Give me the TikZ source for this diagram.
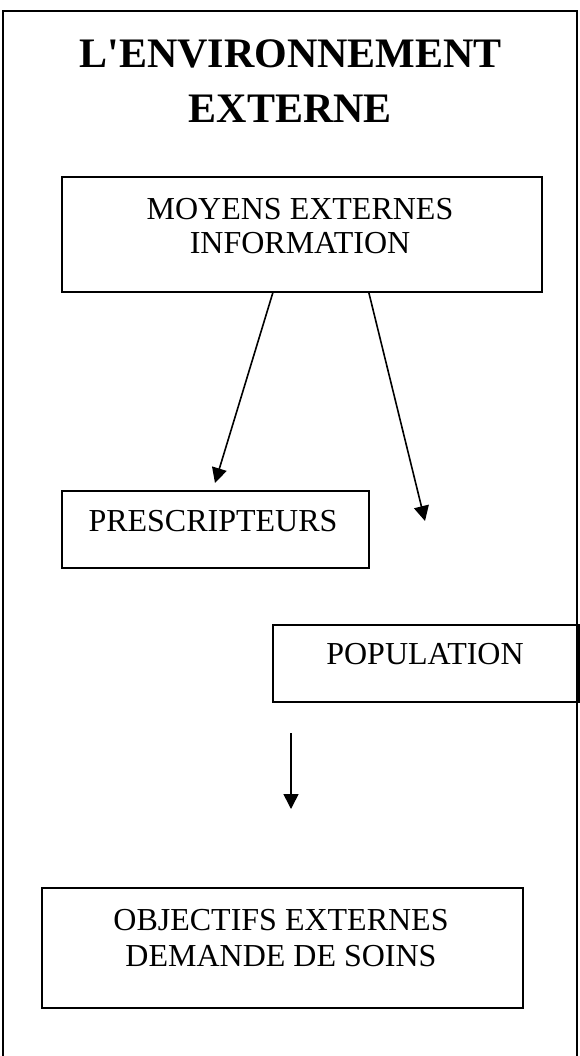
\documentclass[tikz,border=0pt]{standalone}
\usepackage{fontspec}
\setmainfont{Liberation Serif}
\usetikzlibrary{arrows.meta}
\begin{document}
\begin{tikzpicture}[x=1pt,y=-1pt,
  frameline/.style={line width=1.8pt},
  box/.style={draw, line width=1.7pt, inner sep=0pt, anchor=north west},
  boxtext/.style={inner sep=0pt, anchor=base, align=center,
    font=\fontsize{32}{35}\selectfont},
  titletext/.style={inner sep=0pt, anchor=base, align=center,
    font=\fontsize{42}{55}\selectfont\bfseries},
  arr/.style={line width=1.6pt, -{Triangle[length=15pt,width=15pt]}}]
\useasboundingbox (0,0) rectangle (580,1056);
\fill[white] (0,0) rectangle (580,1056);

% outer frame, open at the bottom
\draw[frameline] (3,1056) -- (3,11) -- (577,11) -- (577,1056);

% title
\node[titletext] (title1) at (290.5,68) {L\textquotesingle ENVIRONNEMENT};
\node[titletext] (title2) at (290.5,123) {EXTERNE};

% boxes
\node[box, minimum width=480pt, minimum height=115pt] (moyens) at (61,176) {};
\node[box, minimum width=307pt, minimum height=77pt] (prescr) at (61,490) {};
\node[box, minimum width=306pt, minimum height=77pt] (pop) at (272,624) {};
\node[box, minimum width=481pt, minimum height=120pt] (objectifs) at (41,887) {};

% box labels
\node[boxtext] (moyens1) at (300,220) {MOYENS EXTERNES};
\node[boxtext] (moyens2) at (300,254) {INFORMATION};
\node[boxtext] (prescrtxt) at (213,531) {PRESCRIPTEURS};
\node[boxtext] (poptxt) at (425,664) {POPULATION};
\node[boxtext] (obj1) at (281,930) {OBJECTIFS EXTERNES};
\node[boxtext] (obj2) at (281,966) {DEMANDE DE SOINS};

% arrow ends
\coordinate (s1) at ([xshift=-29pt]moyens.south);
\coordinate (s2) at ([xshift=67pt]moyens.south);
\coordinate (e1) at (215,483);
\coordinate (e2) at (425,521);
\coordinate (s3) at (291,733);
\coordinate (e3) at (291,809);

\draw[arr] (s1) -- (e1);
\draw[arr] (s2) -- (e2);
\draw[arr] (s3) -- (e3);
\end{tikzpicture}
\end{document}
